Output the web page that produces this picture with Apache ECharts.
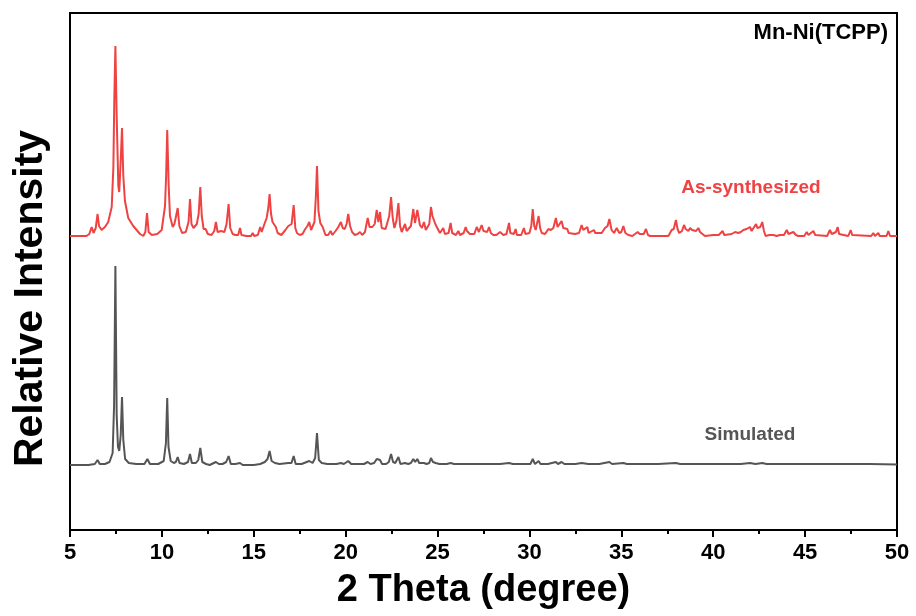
<!DOCTYPE html>
<html>
<head>
<meta charset="utf-8">
<script src="https://cdn.jsdelivr.net/npm/echarts@6/dist/echarts.min.js"></script>
<style>html,body{margin:0;padding:0;background:#fff;}#chart{width:916px;height:616px;}</style>
</head>
<body>
<div id="chart"></div>
<script>
const asSynthesized = [[5.0,0],[5.9,0],[6.05,2],[6.18,9],[6.28,3],[6.4,8],[6.5,22],[6.58,10],[6.72,6],[6.9,9],[7.08,14],[7.27,29],[7.36,69],[7.41,136],[7.47,190],[7.54,120],[7.63,50],[7.68,44],[7.77,80],[7.83,108],[7.9,60],[7.99,35],[8.17,18],[8.44,10],[8.81,2],[8.99,0],[9.1,4],[9.19,23],[9.28,4],[9.45,1],[9.75,2],[9.99,6],[10.17,30],[10.23,60],[10.29,106],[10.37,50],[10.44,20],[10.59,9],[10.68,12],[10.75,18],[10.8,16],[10.86,28],[10.95,10],[11.1,3],[11.3,4],[11.45,14],[11.53,37],[11.61,12],[11.72,8],[11.8,10],[11.9,12],[12.0,22],[12.09,49],[12.17,20],[12.27,7],[12.38,7],[12.5,2],[12.7,1],[12.85,5],[12.94,14],[13.03,4],[13.12,2],[13.22,5],[13.3,3],[13.4,4],[13.52,12],[13.63,32],[13.72,8],[13.85,2],[14.0,1],[14.15,1],[14.25,8],[14.33,1],[14.6,0],[14.85,0],[14.94,3],[15.02,0],[15.22,1],[15.35,9],[15.43,4],[15.58,12],[15.7,18],[15.79,28],[15.86,42],[15.94,22],[16.02,14],[16.1,12],[16.2,9],[16.3,3],[16.5,1],[16.72,6],[16.88,10],[16.98,10],[17.06,12],[17.17,31],[17.26,8],[17.35,3],[17.5,1],[17.65,2],[17.8,7],[17.92,10],[18.02,14],[18.12,6],[18.3,14],[18.38,40],[18.44,70],[18.52,25],[18.62,13],[18.75,9],[18.9,1],[19.05,1],[19.18,5],[19.28,1],[19.45,5],[19.6,9],[19.74,14],[19.84,8],[19.95,7],[20.05,12],[20.14,22],[20.24,10],[20.35,4],[20.5,1],[20.65,2],[20.78,4],[20.9,1],[21.05,4],[21.2,18],[21.3,9],[21.45,9],[21.58,12],[21.69,26],[21.78,14],[21.87,24],[21.96,8],[22.05,6],[22.17,7],[22.27,9],[22.37,20],[22.47,39],[22.56,18],[22.65,8],[22.76,15],[22.87,33],[22.96,10],[23.05,4],[23.14,5],[23.23,12],[23.32,5],[23.41,4],[23.55,10],[23.68,27],[23.77,13],[23.9,26],[24.04,11],[24.15,8],[24.26,14],[24.36,6],[24.44,6],[24.55,12],[24.64,29],[24.72,20],[24.81,18],[24.9,11],[24.99,11],[25.13,3],[25.22,2],[25.31,8],[25.4,2],[25.5,1],[25.6,3],[25.71,13],[25.8,3],[25.89,1],[26.0,1],[26.13,5],[26.22,1],[26.31,1],[26.42,3],[26.53,9],[26.6,5],[26.67,7],[26.76,2],[26.86,1],[27.0,2],[27.13,9],[27.25,4],[27.4,11],[27.5,5],[27.58,6],[27.7,4],[27.8,9],[27.9,3],[28.03,1],[28.2,1],[28.4,4],[28.5,2],[28.58,1],[28.75,2],[28.89,13],[28.96,3],[29.03,1],[29.15,2],[29.25,7],[29.32,1],[29.39,0],[29.55,1],[29.7,8],[29.78,2],[29.85,1],[30.0,3],[30.1,10],[30.18,27],[30.26,10],[30.34,6],[30.42,8],[30.5,20],[30.58,8],[30.67,3],[30.85,2],[31.03,7],[31.1,5],[31.17,6],[31.3,8],[31.44,18],[31.53,9],[31.63,11],[31.75,15],[31.84,8],[31.93,6],[32.06,7],[32.13,3],[32.21,1],[32.48,2],[32.7,3],[32.84,11],[32.93,6],[33.02,8],[33.15,9],[33.22,3],[33.29,1],[33.51,6],[33.58,3],[33.66,4],[33.74,3],[33.8,5],[33.93,3],[34.11,8],[34.25,10],[34.35,17],[34.47,6],[34.6,3],[34.75,8],[34.89,3],[35.0,4],[35.11,10],[35.22,3],[35.38,1],[35.6,0],[35.89,4],[36.0,2],[36.1,3],[36.22,2],[36.34,7],[36.45,1],[36.56,0],[37.56,0],[37.74,6],[37.85,7],[37.97,16],[38.06,7],[38.15,3],[38.3,5],[38.41,11],[38.5,7],[38.56,6],[38.65,5],[38.74,8],[38.85,6],[38.95,7],[39.07,5],[39.19,8],[39.28,4],[39.37,3],[39.55,0],[40.0,1],[40.3,1],[40.51,5],[40.6,1],[40.7,0],[41.0,2],[41.19,4],[41.36,3],[41.5,4],[41.64,6],[41.82,7],[41.9,6],[42.0,9],[42.09,5],[42.18,6],[42.33,12],[42.4,8],[42.45,7],[42.56,9],[42.67,14],[42.76,5],[42.85,0],[43.05,1],[43.27,1],[43.45,0],[43.63,1],[43.85,1],[44.0,6],[44.1,2],[44.18,3],[44.36,4],[44.5,1],[44.63,0],[44.95,0],[45.09,4],[45.18,1],[45.27,0],[45.45,5],[45.55,1],[45.63,0],[46.2,0],[46.35,6],[46.45,2],[46.53,3],[46.68,4],[46.77,9],[46.85,2],[46.93,0],[47.35,0],[47.48,6],[47.56,1],[47.62,0],[48.6,0],[48.71,3],[48.8,0],[48.9,0],[48.98,3],[49.06,0],[49.43,0],[49.53,5],[49.62,0],[49.8,0],[50,0]];

const simulated = [[5,0],[6.0,0],[6.35,1],[6.5,5],[6.62,1],[6.9,1],[7.15,3],[7.32,12],[7.4,60],[7.47,199],[7.54,50],[7.61,18],[7.68,14],[7.76,30],[7.83,68],[7.9,25],[8.0,6],[8.2,2],[8.6,1],[9.05,1],[9.21,6],[9.35,1],[9.8,1],[10.1,4],[10.22,22],[10.29,67],[10.36,18],[10.48,4],[10.65,2],[10.76,3],[10.86,8],[10.96,2],[11.2,1],[11.42,3],[11.53,11],[11.63,2],[11.85,2],[11.98,5],[12.09,17],[12.2,3],[12.4,1],[12.6,0],[12.94,3],[13.1,1],[13.3,1],[13.5,3],[13.63,9],[13.75,1],[14.0,1],[14.25,2],[14.4,0],[15.0,0],[15.35,1],[15.6,3],[15.75,6],[15.86,14],[15.97,4],[16.15,2],[16.4,1],[16.88,2],[17.05,2],[17.17,9],[17.28,1],[17.6,1],[18.02,4],[18.2,2],[18.34,7],[18.44,32],[18.54,5],[18.7,2],[19.0,1],[19.18,1],[19.5,1],[19.74,2],[19.9,1],[20.14,4],[20.3,1],[20.6,1],[20.78,1],[21.0,1],[21.2,3],[21.35,1],[21.55,2],[21.69,6],[21.78,4],[21.87,5],[21.98,1],[22.2,1],[22.35,3],[22.47,11],[22.58,3],[22.7,2],[22.87,8],[22.98,1],[23.23,2],[23.4,1],[23.55,2],[23.68,6],[23.78,3],[23.9,6],[24.0,2],[24.26,2],[24.4,1],[24.55,2],[24.64,7],[24.75,3],[24.9,2],[25.1,1],[25.31,1],[25.5,1],[25.71,2],[25.9,1],[26.5,1],[27.13,1],[27.4,1],[27.8,1],[28.4,1],[28.89,2],[29.1,1],[29.7,1],[30.05,1],[30.18,6],[30.3,1],[30.5,4],[30.6,1],[31.0,1],[31.44,3],[31.55,1],[31.75,3],[31.9,1],[32.5,1],[32.84,2],[33.2,1],[33.8,1],[34.35,3],[34.5,1],[35.11,2],[35.3,1],[36.3,1],[37.0,1],[37.97,2],[38.2,1],[38.5,1],[39.2,1],[40.5,1],[41.5,1],[42.0,2],[42.3,1],[42.67,2],[42.9,1],[44.0,1],[45.5,1],[46.8,1],[47.5,1],[48.5,1],[50,0.5]];

const xTickValues = [5, 10, 15, 20, 25, 30, 35, 40, 45, 50];
const seriesNames = ['As-synthesized', 'Simulated'];
const sampleName = 'Mn-Ni(TCPP)';
const stackOffsets = { 'As-synthesized': 294, 'Simulated': 65 };

const FONT = "'Liberation Sans', Arial, Helvetica, sans-serif";
const RED = '#ef4343';
const GRAY = '#555555';

function shifted(points, name) {
  const off = stackOffsets[name];
  return points.map(p => [p[0], p[1] + off]);
}

const chart = echarts.init(document.getElementById('chart'), null, { renderer: 'canvas' });
chart.setOption({
  animation: false,
  backgroundColor: '#fff',
  grid: { left: 70, right: 19, top: 13, bottom: 86, show: true, borderColor: '#000', borderWidth: 2, backgroundColor: 'transparent' },
  xAxis: {
    type: 'value', min: xTickValues[0], max: xTickValues[xTickValues.length - 1], interval: 5,
    name: '2 Theta (degree)', nameLocation: 'middle', nameGap: 42,
    nameTextStyle: { fontFamily: FONT, fontWeight: 'bold', fontSize: 38, color: '#000' },
    axisLine: { show: true, onZero: false, lineStyle: { color: '#000', width: 2 } },
    axisTick: { show: true, inside: false, length: 7, lineStyle: { color: '#000', width: 2 } },
    minorTick: { show: true, splitNumber: 2, length: 4, lineStyle: { color: '#000', width: 2 } },
    axisLabel: { margin: 12, fontFamily: FONT, fontWeight: 'bold', fontSize: 22, color: '#000' },
    splitLine: { show: false }
  },
  yAxis: {
    type: 'value', min: 0, max: 517,
    name: 'Relative Intensity', nameLocation: 'middle', nameGap: 19, nameRotate: 90,
    nameTextStyle: { fontFamily: FONT, fontWeight: 'bold', fontSize: 41, color: '#000', padding: [0, 54, 0, 0] },
    axisLine: { show: true, lineStyle: { color: '#000', width: 2 } },
    axisTick: { show: false }, axisLabel: { show: false }, splitLine: { show: false }
  },
  series: [
    { name: seriesNames[0], type: 'line', data: shifted(asSynthesized, seriesNames[0]), showSymbol: false, symbol: 'none',
      lineStyle: { color: RED, width: 2 }, itemStyle: { color: RED }, z: 3 },
    { name: seriesNames[1], type: 'line', data: shifted(simulated, seriesNames[1]), showSymbol: false, symbol: 'none',
      lineStyle: { color: GRAY, width: 2 }, itemStyle: { color: GRAY }, z: 3 }
  ],
  graphic: [
    { type: 'text', x: 888, y: 33, style: { text: sampleName, font: "bold 22px " + FONT, fill: '#000', textAlign: 'right', textVerticalAlign: 'middle' } },
    { type: 'text', x: 751, y: 188, style: { text: seriesNames[0], font: "bold 19px " + FONT, fill: RED, textAlign: 'center', textVerticalAlign: 'middle' } },
    { type: 'text', x: 750, y: 435, style: { text: seriesNames[1], font: "bold 19px " + FONT, fill: GRAY, textAlign: 'center', textVerticalAlign: 'middle' } }
  ]
});
</script>
</body>
</html>
